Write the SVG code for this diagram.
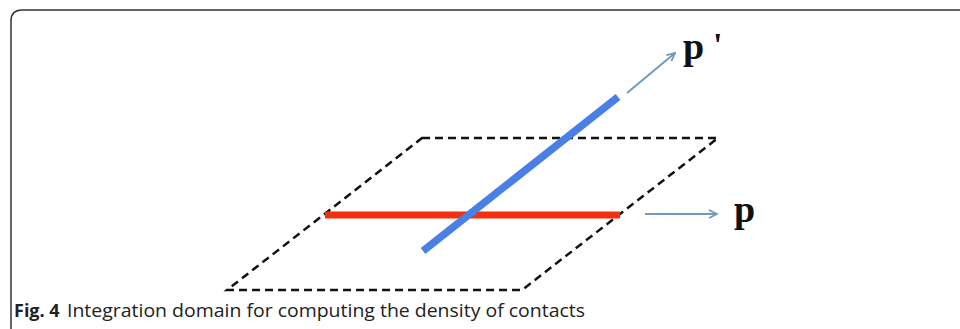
<svg xmlns="http://www.w3.org/2000/svg" width="960" height="329" viewBox="0 0 960 329">
  <defs>
    <marker id="head" viewBox="0 0 10 10" refX="9" refY="5" markerWidth="10" markerHeight="10" markerUnits="userSpaceOnUse" orient="auto">
      <path d="M1,1 L9,5 L1,9" fill="none" stroke="#6f9bc6" stroke-width="1.8"/>
    </marker>
  </defs>
  <style>
    .frame { fill: none; stroke: #333; stroke-width: 1.5; }
    .plane { fill: none; stroke: #111; stroke-width: 2.5; stroke-dasharray: 8 5; }
    .arrow { fill: none; stroke: #6f9bc6; stroke-width: 2; marker-end: url(#head); }
    .label { font-family: "Liberation Serif", serif; font-weight: bold; fill: #111; }
    .caption { font-family: "Open Sans", "Noto Sans", sans-serif; font-size: 18px; fill: #222; }
  </style>
  <rect width="960" height="329" fill="#fff"/>
  <!-- figure frame -->
  <path class="frame" d="M11,329 V21 Q11,10 22,10 H960"/>

  <!-- integration plane -->
  <g id="plane">
    <path class="plane" d="M422,138 H718 L522,290 H227 Z"/>
  </g>

  <!-- red segment p -->
  <g id="segment-p">
    <line x1="325" y1="215" x2="620" y2="215" stroke="#f2300f" stroke-width="7"/>
  </g>

  <!-- blue segment p' -->
  <g id="segment-p-prime">
    <line x1="423" y1="251" x2="618" y2="97" stroke="#4a80e6" stroke-width="7.5"/>
  </g>

  <g id="connectors">
    <line class="arrow" x1="627" y1="93" x2="675" y2="53"/>
    <line class="arrow" x1="645" y1="214" x2="717" y2="214"/>
  </g>

  <g id="label-p-prime">
    <text class="label" x="683" y="59" font-size="38">p</text>
    <text class="label" x="713" y="56" font-size="34">'</text>
  </g>
  <g id="label-p">
    <text class="label" x="734" y="222" font-size="38">p</text>
  </g>

  <g id="caption">
    <text class="caption" x="14" y="317" font-weight="bold">Fig. 4</text>
    <text class="caption" x="67" y="317" textLength="518" lengthAdjust="spacingAndGlyphs">Integration domain for computing the density of contacts</text>
  </g>
</svg>
